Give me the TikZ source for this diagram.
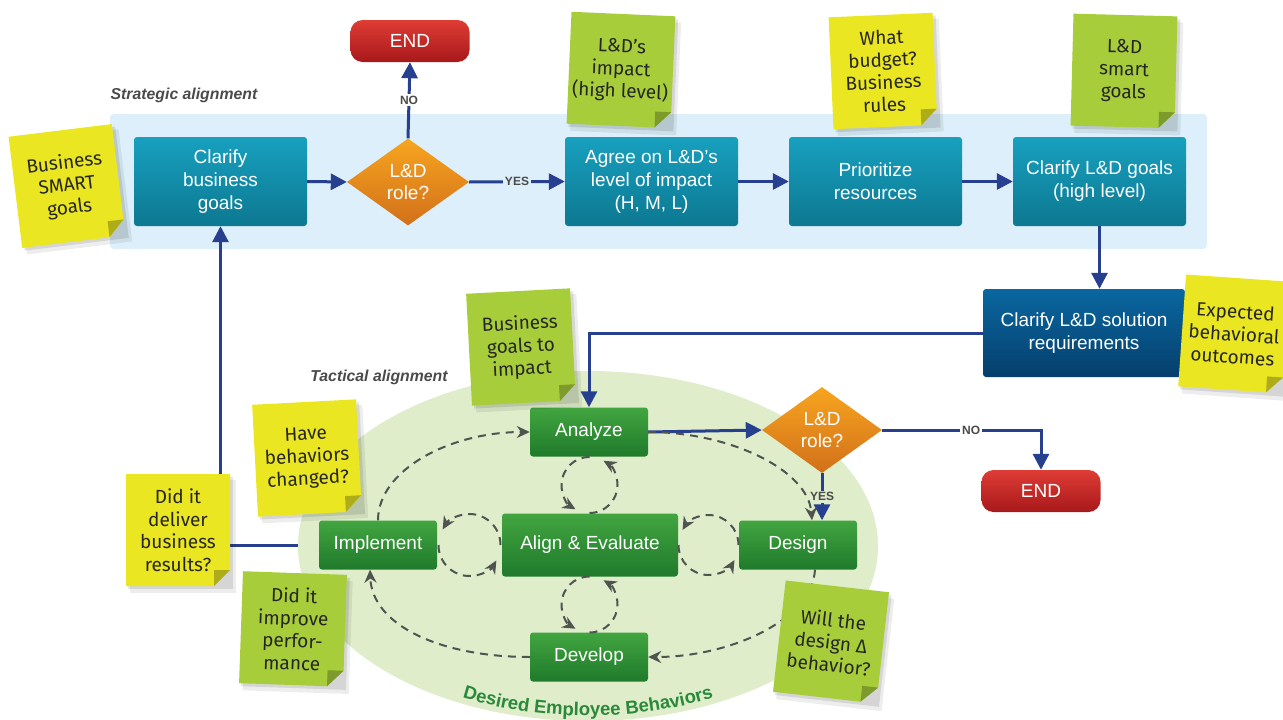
\documentclass[tikz,border=0pt]{standalone}
\usepackage{fontspec}
\setmainfont{Liberation Sans}
\newfontfamily\notefont{Fira Sans}
\usetikzlibrary{arrows.meta,calc,shapes.geometric,decorations.text}

\definecolor{bandblue}{HTML}{DCEFFA}
\definecolor{tealtop}{HTML}{17A0BF}
\definecolor{tealbot}{HTML}{0D7891}
\definecolor{navytop}{HTML}{0A67A0}
\definecolor{navybot}{HTML}{053F6C}
\definecolor{greentop}{HTML}{42A540}
\definecolor{greenbot}{HTML}{1F7A2B}
\definecolor{orangetop}{HTML}{F7A51F}
\definecolor{orangebot}{HTML}{D2701A}
\definecolor{redtop}{HTML}{DE3D34}
\definecolor{redbot}{HTML}{A8181B}
\definecolor{flowblue}{HTML}{263F8E}
\definecolor{loopgray}{HTML}{4F5450}
\definecolor{ovalgreen}{HTML}{DFEDCB}
\definecolor{notey}{HTML}{EAE621}
\definecolor{noteg}{HTML}{A7CD3A}
\definecolor{labelgray}{HTML}{4A4A4A}
\definecolor{behgreen}{HTML}{2A8A3A}

\pgfdeclarelayer{back}
\pgfsetlayers{back,main}

\tikzset{
  stepbox/.style={rectangle, rounded corners=3pt, minimum width=173pt, minimum height=89pt,
    inner sep=2pt, top color=tealtop, bottom color=tealbot, text=white, align=center,
    font=\fontsize{19}{23}\selectfont},
  tactbox/.style={stepbox, minimum width=118pt, minimum height=49pt,
    top color=greentop, bottom color=greenbot},
  decision/.style={diamond, aspect=1.4, minimum width=122pt, minimum height=87pt, inner sep=0pt,
    top color=orangetop, bottom color=orangebot, text=white, align=center,
    font=\fontsize{19}{22}\selectfont},
  endbox/.style={rectangle, rounded corners=12pt, minimum width=119pt, minimum height=42pt,
    top color=redtop, bottom color=redbot, text=white, font=\fontsize{19}{20}\selectfont},
  flow/.style={draw=flowblue, line width=3pt, -{Triangle[length=16pt,width=16pt]}},
  loopline/.style={draw=loopgray, line width=2pt, dash pattern=on 8pt off 6pt,
    -{Stealth[length=13pt,width=12pt]}},
  flowlabel/.style={font=\bfseries\fontsize{12}{14}\selectfont, text=labelgray, inner sep=2pt},
  phase/.style={font=\bfseries\itshape\fontsize{15.8}{18}\selectfont, text=labelgray},
  notetext/.style={align=center, font=\notefont\fontsize{19}{22.5}\selectfont, text=black!85},
}

% sticky note: name, centre, angle, colour, text
\newcommand{\stickynote}[5]{%
  \begin{scope}[shift={#2}, rotate=#3]
    \fill[black, opacity=.07] (-48,-50) rectangle (58,63);
    \fill[black, opacity=.10] (-50,-53) rectangle (55,59);
    \fill[#4] (-52,-56) -- (52,-56) -- (52,40) -- (36,56) -- (-52,56) -- cycle;
    \fill[#4!75!black] (52,40) -- (36,56) -- (36,40) -- cycle;
  \end{scope}
  \node[notetext, rotate=#3] (#1) at #2 {#5};}

\begin{document}
\begin{tikzpicture}[x=1pt, y=-1pt]
  \useasboundingbox (0,0) rectangle (1283,720);

  % Strategic band
  \begin{pgfonlayer}{back}
    \fill[bandblue, rounded corners=4pt] (110,114) rectangle (1207,249);
  \end{pgfonlayer}
  \node[phase] (strategic) at (184,95) {Strategic alignment};
  \node[phase] (tactical) at (379,377) {Tactical alignment};

  % Strategic steps
  \node[stepbox] (clarify) at (220.5,181.5) {Clarify\\business\\goals};
  \node[decision] (role) at (408,182) {L\&D\\role?};
  \node[endbox] (stop) at (410,41) {END};
  \node[stepbox] (agree) at (651.5,181.5) {Agree on L\&D’s\\level of impact\\(H, M, L)};
  \node[stepbox] (prior) at (875.5,181.5) {Prioritize\\resources};
  \node[stepbox] (ldgoals) at (1099.5,181.5) {Clarify L\&D goals\\(high level)};
  \node[stepbox, minimum width=202pt, minimum height=88pt, top color=navytop,
    bottom color=navybot] (solution) at (1084,333) {Clarify L\&D solution\\requirements};

  % Tactical steps
  \node[tactbox] (analyze) at (589,432) {Analyze};
  \node[tactbox, minimum width=176pt, minimum height=63pt] (align) at (590,545) {Align \& Evaluate};
  \node[tactbox] (implement) at (378,545) {Implement};
  \node[tactbox] (design) at (798,545) {Design};
  \node[tactbox] (develop) at (589,657) {Develop};
  \node[decision, minimum width=120pt, minimum height=86pt] (role2) at (822,430) {L\&D\\role?};
  \node[endbox] (stop2) at (1041,491) {END};

  % Feedback to the business goals, then the oval of behaviors
  \begin{pgfonlayer}{back}
    \draw[flow] (implement.west) -| (clarify.south);
    \fill[ovalgreen] (588,546) ellipse [x radius=290, y radius=175];
    \path[decorate, decoration={text along path, text align=center, text color=behgreen,
      text={|\bfseries\fontsize{18.5}{20}\selectfont|Desired Employee Behaviors}}]
      (449,693) arc[start angle=120, end angle=60, x radius=278, y radius=170];
  \end{pgfonlayer}

  % Flow arrows
  \draw[flow] (clarify.east) -- (role.west);
  \draw[flow] (role.north) -- node[flowlabel, fill=white] {NO} (stop.south);
  \draw[flow] (role.east) -- node[flowlabel, fill=bandblue] {YES} (agree.west);
  \draw[flow] (agree.east) -- (prior.west);
  \draw[flow] (prior.east) -- (ldgoals.west);
  \draw[flow] (ldgoals.south) -- (ldgoals.south |- solution.north);
  \draw[flow] (solution.west) -| (analyze.north);
  \draw[flow] (analyze.east) -- (role2.west);
  \draw[flow] (role2.east) -| node[flowlabel, fill=white, pos=.28] {NO} (stop2.north);
  \draw[flow] (role2.south) -- node[flowlabel, fill=ovalgreen] {YES} (role2.south |- design.north);

  % Outer cycle
  \draw[loopline] (implement.north) .. controls (378,470) and (450,432) .. (analyze.west);
  \draw[loopline] (analyze.east) .. controls (730,432) and (808,470) .. ([xshift=14pt]design.north);
  \draw[loopline] ([xshift=17pt]design.south) .. controls (812,620) and (730,657) .. (develop.east);
  \draw[loopline] (develop.west) .. controls (440,657) and (372,625) .. ([xshift=-8pt]implement.south);

  % Small loops round Align & Evaluate
  \coordinate (loopN) at ($(analyze.south)!.5!(align.north)$);
  \coordinate (loopS) at ($(align.south)!.5!(develop.north)$);
  \coordinate (loopW) at ($(implement.east)!.5!(align.west)$);
  \coordinate (loopE) at ($(align.east)!.5!(design.west)$);
  \draw[loopline] ($(loopN)+(0,28)$) arc[start angle=90, end angle=-60, radius=28];
  \draw[loopline] ($(loopN)+(0,-28)$) arc[start angle=270, end angle=120, radius=28];
  \draw[loopline] ($(loopS)+(0,28)$) arc[start angle=90, end angle=-60, radius=28];
  \draw[loopline] ($(loopS)+(0,-28)$) arc[start angle=270, end angle=120, radius=28];
  \draw[loopline] ($(loopW)+(31,0)$) arc[start angle=0, end angle=-150, radius=31];
  \draw[loopline] ($(loopW)+(-31,0)$) arc[start angle=180, end angle=30, radius=31];
  \draw[loopline] ($(loopE)+(30,0)$) arc[start angle=0, end angle=-150, radius=30];
  \draw[loopline] ($(loopE)+(-30,0)$) arc[start angle=180, end angle=30, radius=30];

  % Sticky notes
  \stickynote{smartnote}{(67,186)}{7}{notey}{Business\\SMART\\goals}
  \stickynote{impactnote}{(621,70)}{-2.5}{noteg}{L\&D’s\\impact\\(high level)}
  \stickynote{budgetnote}{(883,71)}{2.5}{notey}{What\\budget?\\Business\\rules}
  \stickynote{smartgoalnote}{(1124,71)}{-1.5}{noteg}{L\&D\\smart\\goals}
  \stickynote{outcomenote}{(1234,334)}{-4}{notey}{Expected\\behavioral\\outcomes}
  \stickynote{impactgoalnote}{(521,347)}{3}{noteg}{Business\\goals to\\impact}
  \stickynote{changenote}{(307,458)}{3}{notey}{Have\\behaviors\\changed?}
  \stickynote{resultnote}{(178,530)}{0}{notey}{Did it\\deliver\\business\\results?}
  \stickynote{perfnote}{(293,629)}{-2}{noteg}{Did it\\improve\\perfor-\\mance}
  \stickynote{designnote}{(831,642)}{-6.5}{noteg}{Will the\\design Δ\\behavior?}
\end{tikzpicture}
\end{document}
